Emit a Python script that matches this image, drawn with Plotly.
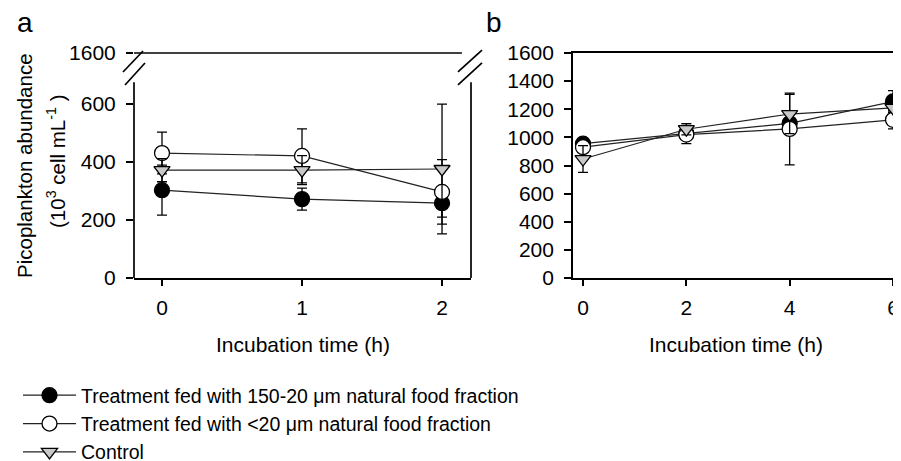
import plotly.graph_objects as go

# ---------------- data ----------------
series_names = [
    "Treatment fed with 150-20 μm natural food fraction",
    "Treatment fed with <20 μm natural food fraction",
    "Control",
]

# panel a (0-2 h)
a_time = [0, 1, 2]
a_fed150 = [303, 272, 258]
a_fed150_err = [86, 38, 48]
a_fed20 = [431, 421, 297]
a_fed20_err = [72, 93, 111]
a_control = [372, 372, 376]
a_control_err = [40, 50, 224]

# panel b (0-6 h)
b_time = [0, 2, 4, 6]
b_fed150 = [955, 1030, 1100, 1255]
b_fed150_err = [40, 45, 60, 78]
b_fed20 = [930, 1020, 1060, 1125]
b_fed20_err = [20, 65, 255, 65]
b_control = [846, 1058, 1166, 1210]
b_control_err = [95, 40, 140, 30]

a_xticks = [0, 1, 2]
b_xticks = [0, 2, 4, 6]
a_ytick_vals = [0, 200, 400, 600]
a_ytick_text = ["0", "200", "400", "600"]
a_break_label = "1600"
b_ytick_vals = [0, 200, 400, 600, 800, 1000, 1200, 1400, 1600]

# ---------------- layout constants ----------------
W, H = 901, 461
OFF = 8  # page body margin in the browser
FONT = "Arial, Liberation Sans, sans-serif"
A_TOP = 776  # axis value at the top of panel a (broken axis, labelled 1600)

def px_x(p):
    return (p - OFF) / W

def px_y(p):
    return 1 - (p - OFF) / H

y_dom = [px_y(278), px_y(53)]
a_dom = [px_x(134), px_x(471)]
b_dom = [px_x(573), 1.0]

styles = [
    dict(symbol="circle", color="black", size=15),
    dict(symbol="circle", color="white", size=15),
    dict(symbol="triangle-down", color="#c8c8c8", size=14),
]

fig = go.Figure()

panel_a = [(a_fed150, a_fed150_err), (a_fed20, a_fed20_err), (a_control, a_control_err)]
panel_b = [(b_fed150, b_fed150_err), (b_fed20, b_fed20_err), (b_control, b_control_err)]

for i, (vals, err) in enumerate(panel_a):
    s = styles[i]
    fig.add_trace(go.Scatter(
        x=a_time, y=vals, mode="lines+markers", name=series_names[i],
        line=dict(color="#222222", width=1.2),
        marker=dict(symbol=s["symbol"], color=s["color"], size=s["size"],
                    line=dict(color="black", width=1.3)),
        error_y=dict(type="data", array=err, visible=True, color="black",
                     thickness=1.3, width=5),
        xaxis="x", yaxis="y", showlegend=True, cliponaxis=False,
    ))

for i, (vals, err) in enumerate(panel_b):
    s = styles[i]
    fig.add_trace(go.Scatter(
        x=b_time, y=vals, mode="lines+markers", name=series_names[i],
        line=dict(color="#222222", width=1.2),
        marker=dict(symbol=s["symbol"], color=s["color"], size=s["size"],
                    line=dict(color="black", width=1.3)),
        error_y=dict(type="data", array=err, visible=True, color="black",
                     thickness=1.3, width=5),
        xaxis="x2", yaxis="y2", showlegend=False,
    ))

tickfont = dict(family=FONT, size=21, color="black")
common_x = dict(showgrid=False, zeroline=False, ticks="outside", ticklen=6,
                tickwidth=1.5, tickcolor="black", tickfont=tickfont,
                showline=True, linecolor="black", linewidth=1.7,
                ticklabelstandoff=4, automargin=False)
common_y = dict(showgrid=False, zeroline=False, ticks="outside", ticklen=7,
                tickwidth=1.5, tickcolor="black", tickfont=tickfont,
                ticklabelstandoff=6, automargin=False)

# panel b x range: 0 h at 583 px, 6 h at 893 px, figure right edge at 901+OFF
b_scale = (893 - 583) / 6
b_range = [(573 - 583) / b_scale, (W + OFF - 583) / b_scale]

fig.update_layout(
    width=W, height=H,
    margin=dict(l=0, r=0, t=0, b=0, autoexpand=False),
    paper_bgcolor="white", plot_bgcolor="white",
    font=dict(family=FONT, color="black"),
    xaxis=dict(domain=a_dom, range=[-0.2, 2.207], tickvals=a_xticks,
               anchor="y", **common_x),
    yaxis=dict(domain=y_dom, range=[0, A_TOP],
               tickvals=a_ytick_vals + [A_TOP],
               ticktext=a_ytick_text + [a_break_label],
               showline=False, anchor="x", **common_y),
    xaxis2=dict(domain=b_dom, range=b_range, tickvals=b_xticks,
                anchor="y2", mirror=True, **common_x),
    yaxis2=dict(domain=y_dom, range=[0, 1600], tickvals=b_ytick_vals,
                showline=True, linecolor="black", linewidth=1.7,
                anchor="x2", **common_y),
    legend=dict(x=px_x(18), y=px_y(376), xanchor="left", yanchor="top",
                font=dict(family=FONT, size=19.5, color="black"),
                itemwidth=53,
                bgcolor="rgba(0,0,0,0)", traceorder="normal"),
)

# broken-axis frame of panel a
lw = 1.7
frame = [
    (0, 0, 0, 0.87),          # left axis line
    (1, 0, 1, 0.87),          # right line
    (0, 1, 0.973, 1),         # top line
    (-0.0326, 0.9156, 0.0267, 1.0089),   # left break slashes
    (-0.0267, 0.8578, 0.0326, 0.9556),
    (0.9614, 0.9156, 1.0326, 1.0133),    # right break slashes
    (0.9614, 0.8578, 1.0326, 0.9556),
]
for x0, y0, x1, y1 in frame:
    fig.add_shape(type="line", xref="x domain", yref="y domain",
                  x0=x0, y0=y0, x1=x1, y1=y1,
                  line=dict(color="black", width=lw))

# axis titles and panel labels
title_font = dict(family=FONT, size=21, color="black")
fig.add_annotation(text="Incubation time (h)", xref="x domain", yref="paper",
                   x=0.5, y=px_y(344), showarrow=False, font=title_font,
                   xanchor="center", yanchor="middle")
fig.add_annotation(text="Incubation time (h)", xref="paper", yref="paper",
                   x=px_x(736), y=px_y(344), showarrow=False, font=title_font,
                   xanchor="center", yanchor="middle")
fig.add_annotation(text="Picoplankton abundance", xref="paper", yref="paper",
                   x=px_x(24), y=px_y(166), showarrow=False, textangle=-90,
                   font=dict(family=FONT, size=20.5, color="black"),
                   xanchor="center", yanchor="middle")
fig.add_annotation(text="(10<sup>3</sup> cell mL<sup>-1</sup> )", xref="paper", yref="paper",
                   x=px_x(56), y=px_y(161), showarrow=False, textangle=-90,
                   font=dict(family=FONT, size=20.5, color="black"),
                   xanchor="center", yanchor="middle")
fig.add_annotation(text="a", xref="paper", yref="paper", x=px_x(25), y=px_y(22),
                   showarrow=False, font=dict(family=FONT, size=28, color="black"),
                   xanchor="center", yanchor="middle")
fig.add_annotation(text="b", xref="paper", yref="paper", x=px_x(494), y=px_y(22),
                   showarrow=False, font=dict(family=FONT, size=28, color="black"),
                   xanchor="center", yanchor="middle")

fig.write_html("out.html")
